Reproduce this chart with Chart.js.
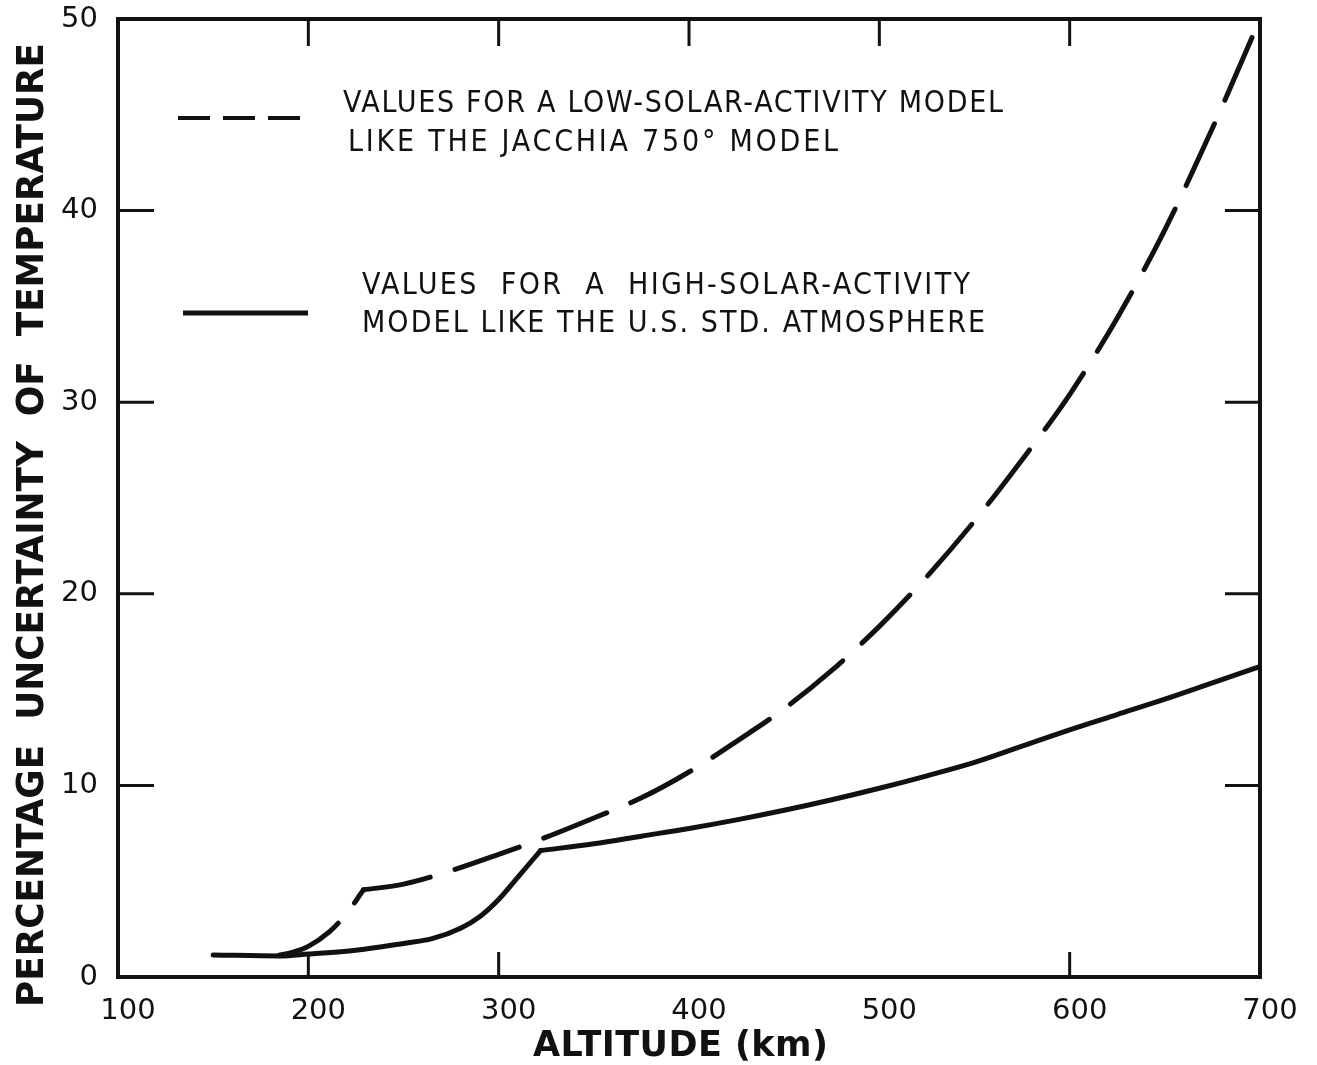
<!DOCTYPE html>
<html>
<head>
<meta charset="utf-8">
<title>Percentage uncertainty of temperature vs altitude</title>
<script src="https://cdn.jsdelivr.net/npm/chart.js@4.4.1/dist/chart.umd.min.js"></script>
<style>
  html, body { margin: 0; padding: 0; background: #fff; }
  #chart { display: block; }
</style>
</head>
<body>
<canvas id="chart" width="1317" height="1065"></canvas>
<script>
// low-solar-activity model (dashed); kink at 229 km
const altLow = [185, 192, 200, 211, 220, 229, 250, 275, 300, 325, 350, 375, 400, 425, 450, 475, 500, 525, 550, 575, 600, 625, 650, 675, 700];
const pctLow = [1.15, 1.3, 1.6, 2.35, 3.3, 4.55, 4.85, 5.55, 6.4, 7.3, 8.3, 9.35, 10.7, 12.3, 14.0, 16.0, 18.3, 20.9, 23.8, 27.0, 30.4, 34.4, 39.0, 44.3, 50];
const kinkLow = 229;

// high-solar-activity model (solid); kink at 322 km
const altHigh = [150, 185, 200, 225, 250, 265, 280, 290, 300, 310, 322, 350, 375, 400, 425, 450, 475, 500, 525, 550, 575, 600, 625, 650, 675, 700];
const pctHigh = [1.15, 1.1, 1.2, 1.4, 1.75, 2.0, 2.55, 3.15, 4.05, 5.2, 6.6, 6.95, 7.35, 7.75, 8.2, 8.7, 9.25, 9.85, 10.5, 11.2, 12.05, 12.9, 13.7, 14.5, 15.35, 16.2];
const kinkHigh = 322;

const xTicks = [100, 200, 300, 400, 500, 600, 700];
const yTicks = [0, 10, 20, 30, 40, 50];
const topMarks = [200, 300, 400, 500, 600];
const bottomMarks = [200, 300, 600];
const sideMarks = [10, 20, 30, 40];

const legendLow = ['VALUES FOR A LOW-SOLAR-ACTIVITY MODEL', 'LIKE THE JACCHIA 750° MODEL'];
const legendHigh = ['VALUES  FOR  A  HIGH-SOLAR-ACTIVITY', 'MODEL LIKE THE U.S. STD. ATMOSPHERE'];
const yTitle = 'PERCENTAGE  UNCERTAINTY  OF  TEMPERATURE';
const xTitle = 'ALTITUDE (km)';

const INK = '#111';
const DASH = [68, 26];

function pairs(xs, ys) { return xs.map((x, i) => ({ x: x, y: ys[i] })); }

// split a curve at its kink so each smooth piece can be splined on its own
function pieces(xs, ys, kink) {
  const all = pairs(xs, ys);
  return [all.filter(p => p.x <= kink), all.filter(p => p.x >= kink)];
}

// draw text stretched (letter spacing) or squeezed to a given width, starting at x
function fitText(ctx, text, x, y, width, font) {
  ctx.save();
  ctx.font = font;
  ctx.textAlign = 'left';
  ctx.textBaseline = 'middle';
  const w0 = ctx.measureText(text).width;
  if (width >= w0) {
    ctx.letterSpacing = ((width - w0) / Math.max(1, text.length - 1)) + 'px';
    ctx.fillText(text, x, y);
  } else {
    ctx.translate(x, y);
    ctx.scale(width / w0, 1);
    ctx.fillText(text, 0, 0);
  }
  ctx.restore();
}

const framePlugin = {
  id: 'frame',
  afterDraw(chart) {
    const ctx = chart.ctx;
    const a = chart.chartArea;
    const xs = chart.scales.x, ys = chart.scales.y;
    ctx.save();
    ctx.strokeStyle = INK;
    ctx.fillStyle = INK;

    // plot box
    ctx.lineWidth = 4;
    ctx.strokeRect(a.left, a.top, a.right - a.left, a.bottom - a.top);

    // inward tick marks
    ctx.lineWidth = 3;
    ctx.beginPath();
    topMarks.forEach(v => {
      const px = xs.getPixelForValue(v);
      ctx.moveTo(px, a.top); ctx.lineTo(px, a.top + 27);
    });
    bottomMarks.forEach(v => {
      const px = xs.getPixelForValue(v);
      ctx.moveTo(px, a.bottom); ctx.lineTo(px, a.bottom - 25);
    });
    sideMarks.forEach(v => {
      const py = ys.getPixelForValue(v);
      ctx.moveTo(a.left, py); ctx.lineTo(a.left + 36, py);
      ctx.moveTo(a.right, py); ctx.lineTo(a.right - 35, py);
    });
    ctx.stroke();

    // axis titles
    ctx.save();
    ctx.translate(33, 525);
    ctx.rotate(-Math.PI / 2);
    fitText(ctx, yTitle, -482, 0, 964, 'bold 37px "DejaVu Sans", sans-serif');
    ctx.restore();
    fitText(ctx, xTitle, 533, 1047, 295, 'bold 35px "DejaVu Sans", sans-serif');

    // legend
    const lf = '30px "DejaVu Sans Condensed", "Liberation Sans Narrow", "DejaVu Sans", sans-serif';
    ctx.lineWidth = 4;
    ctx.setLineDash([32, 13]);
    ctx.beginPath(); ctx.moveTo(178, 118); ctx.lineTo(302, 118); ctx.stroke();
    ctx.setLineDash([]);
    ctx.lineWidth = 5;
    ctx.beginPath(); ctx.moveTo(183, 313); ctx.lineTo(308, 313); ctx.stroke();

    fitText(ctx, legendLow[0], 343, 104, 660, lf);
    fitText(ctx, legendLow[1], 348, 143, 490, lf);
    fitText(ctx, legendHigh[0], 362, 286, 608, lf);
    fitText(ctx, legendHigh[1], 362, 324, 623, lf);
    ctx.restore();
  }
};

const tickFont = { family: '"DejaVu Sans", sans-serif', size: 29 };

const lowParts = pieces(altLow, pctLow, kinkLow);
const highParts = pieces(altHigh, pctHigh, kinkHigh);

function curve(data, dashed) {
  return {
    data: data,
    borderColor: INK,
    borderWidth: 5,
    borderDash: dashed ? DASH : [],
    borderCapStyle: 'round',
    borderJoinStyle: 'round',
    pointRadius: 0,
    cubicInterpolationMode: 'monotone',
    fill: false
  };
}

new Chart(document.getElementById('chart'), {
  type: 'line',
  data: {
    datasets: [
      curve(lowParts[0], true),
      curve(lowParts[1], true),
      curve(highParts[0], false),
      curve(highParts[1], false)
    ]
  },
  options: {
    responsive: false,
    animation: false,
    devicePixelRatio: 1,
    layout: { padding: { top: 19, right: 57, left: 0, bottom: 0 } },
    plugins: { legend: { display: false }, tooltip: { enabled: false } },
    scales: {
      x: {
        type: 'linear',
        min: 100,
        max: 700,
        afterBuildTicks: s => { s.ticks = xTicks.map(v => ({ value: v })); },
        afterFit: s => { s.height = 88; s.paddingLeft = 0; s.paddingRight = 0; },
        grid: { display: false },
        border: { display: false },
        ticks: { font: tickFont, color: INK, padding: 9, labelOffset: 10, maxRotation: 0, autoSkip: false }
      },
      y: {
        type: 'linear',
        min: 0,
        max: 50,
        afterBuildTicks: s => { s.ticks = yTicks.map(v => ({ value: v })); },
        afterFit: s => { s.width = 118; s.paddingTop = 0; s.paddingBottom = 0; },
        grid: { display: false },
        border: { display: false },
        ticks: { font: tickFont, color: INK, padding: 12, autoSkip: false }
      }
    }
  },
  plugins: [framePlugin]
});
</script>
</body>
</html>
